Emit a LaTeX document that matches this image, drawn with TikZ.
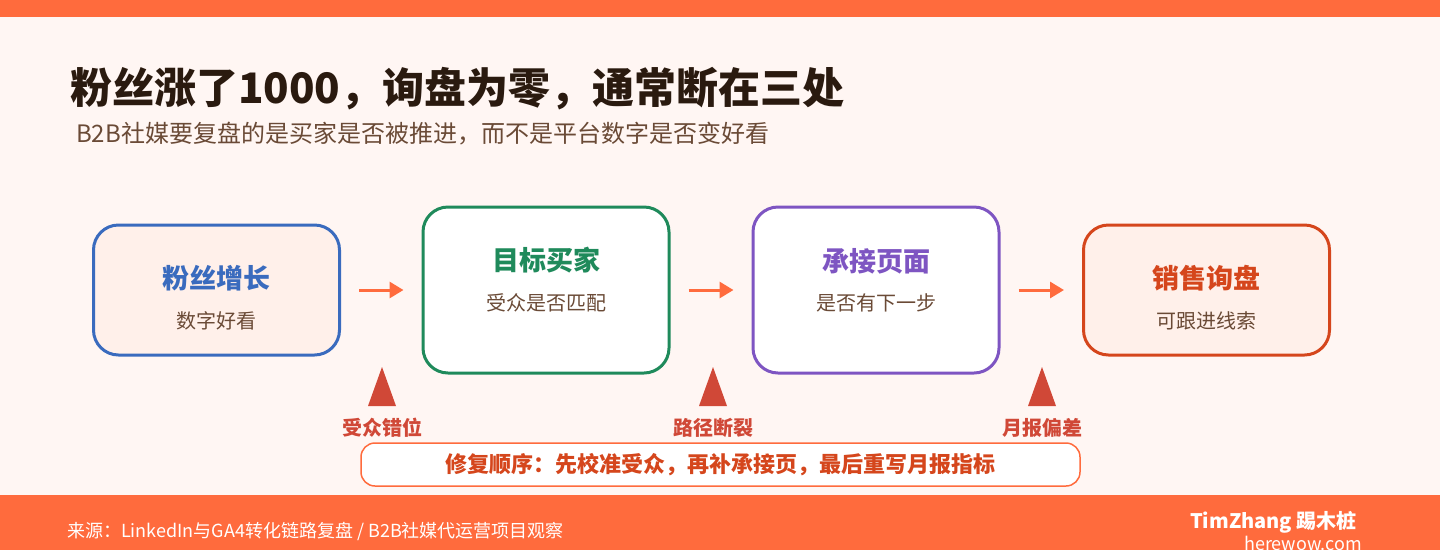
\documentclass[tikz,border=0pt]{standalone}
\usepackage{fontspec}
\setmainfont{Noto Sans CJK SC}
\usetikzlibrary{arrows.meta,positioning}
\definecolor{accent}{HTML}{FF6B3D}
\definecolor{paper}{HTML}{FFF6F3}
\definecolor{peach}{HTML}{FFF0EA}
\definecolor{fanblue}{HTML}{3A6BBE}
\definecolor{buyergreen}{HTML}{1F8A5B}
\definecolor{pagepurple}{HTML}{7E55C2}
\definecolor{leadred}{HTML}{D5461C}
\definecolor{ink}{HTML}{2A1A0F}
\definecolor{softink}{HTML}{6A4A36}
\definecolor{warn}{HTML}{D04837}

\tikzstyle{card} = [draw, rounded corners=25pt, line width=3pt, minimum width=246pt, inner sep=0pt]
\tikzstyle{cardtitle} = [font=\bfseries\fontsize{27}{27}\selectfont, inner sep=0pt]
\tikzstyle{cardsub} = [font=\fontsize{20}{20}\selectfont, text=softink, inner sep=0pt]
\tikzstyle{flow} = [accent, line width=3pt, -{Triangle[length=14pt,width=16pt]}]
\tikzstyle{gaplabel} = [font=\bfseries\fontsize{20}{20}\selectfont, text=warn, inner sep=0pt]

\begin{document}
\begin{tikzpicture}[x=1pt,y=-1pt]
\useasboundingbox (0,0) rectangle (1440,550);
\clip (0,0) rectangle (1440,550);
\fill[paper] (0,0) rectangle (1440,550);
\fill[accent] (0,0) rectangle (1440,17);
\fill[accent] (0,495) rectangle (1440,550);
\node[anchor=west, text=ink, font=\bfseries\fontsize{42}{42}\selectfont, inner sep=0pt] (title) at (70,89) {粉丝涨了1000，询盘为零，通常断在三处};
\node[anchor=west, text=softink, font=\fontsize{24}{24}\selectfont, inner sep=0pt] (subtitle) at (76,134) {B2B社媒要复盘的是买家是否被推进，而不是平台数字是否变好看};
\node[card, draw=fanblue, fill=peach, minimum height=130pt] (fans) at (216.5,290) {};
\node[card, draw=buyergreen, fill=white, minimum height=166pt] (buyer) at (546,290) {};
\node[card, draw=pagepurple, fill=white, minimum height=166pt] (landing) at (876,290) {};
\node[card, draw=leadred, fill=peach, minimum height=130pt] (leads) at (1206.5,290) {};
\node[cardtitle, text=fanblue] (fanst) at (216.5,278) {粉丝增长};
\node[cardsub] (fanss) at (216.5,321) {数字好看};
\node[cardtitle, text=buyergreen] (buyert) at (546,260) {目标买家};
\node[cardsub] (buyers) at (546,303) {受众是否匹配};
\node[cardtitle, text=pagepurple] (landingt) at (876,261) {承接页面};
\node[cardsub] (landings) at (876,303) {是否有下一步};
\node[cardtitle, text=leadred] (leadst) at (1206.5,278) {销售询盘};
\node[cardsub] (leadss) at (1206.5,321) {可跟进线索};
\draw[flow] ([xshift=18pt]fans.east) -- ([xshift=-18pt]buyer.west);
\draw[flow] ([xshift=18pt]buyer.east) -- ([xshift=-18pt]landing.west);
\draw[flow] ([xshift=18pt]landing.east) -- ([xshift=-18pt]leads.west);
\coordinate (gap1) at (382,406);
\coordinate (gap2) at (713,406);
\coordinate (gap3) at (1042,406);
\foreach \g in {gap1,gap2,gap3}
  \fill[warn] (\g) ++(-14,0) -- ++(14,-39) -- ++(14,39) -- cycle;
\node[gaplabel] (gap1t) at (382,428) {受众错位};
\node[gaplabel] (gap2t) at (713,428) {路径断裂};
\node[gaplabel] (gap3t) at (1042,428) {月报偏差};
\node[draw=accent, fill=white, line width=1.5pt, rounded corners=14pt, minimum width=719pt, minimum height=43pt, text=leadred, font=\bfseries\fontsize{22}{22}\selectfont] (fix) at (720.5,464.5) {修复顺序：先校准受众，再补承接页，最后重写月报指标};
\node[anchor=west, text=white, font=\fontsize{18}{18}\selectfont, inner sep=0pt] (source) at (67,531) {来源：LinkedIn与GA4转化链路复盘 / B2B社媒代运营项目观察};
\node[anchor=east, text=white, font=\bfseries\fontsize{20}{20}\selectfont, inner sep=0pt] (brand) at (1357,522) {TimZhang 踢木桩};
\node[anchor=east, text=white, font=\fontsize{18}{18}\selectfont, inner sep=0pt] (site) at (1362,543) {herewow.com};
\end{tikzpicture}
\end{document}
